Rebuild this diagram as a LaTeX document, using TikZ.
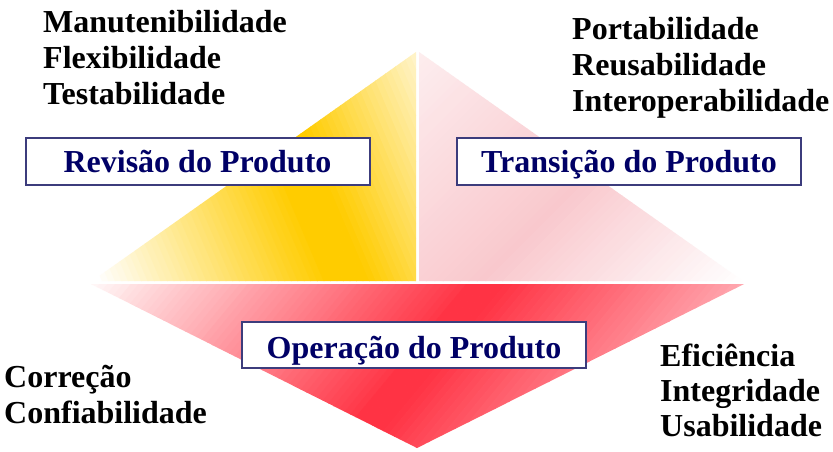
\documentclass[tikz,border=0pt]{standalone}
\usepackage{fontspec}
\setmainfont{Liberation Serif}
\usetikzlibrary{shadows}
\definecolor{gold}{HTML}{FFCC00}
\definecolor{goldlight}{HTML}{FFF6D6}
\definecolor{pinkpeak}{HTML}{F9C8CD}
\definecolor{pinktop}{HTML}{FDEEEF}
\definecolor{redpeak}{HTML}{FF3344}
\definecolor{redend}{HTML}{FFAAB2}
\definecolor{redstart}{HTML}{FFF6F6}
\definecolor{navy}{HTML}{000066}
\definecolor{boxline}{HTML}{3C3C7C}
\begin{document}
\begin{tikzpicture}[x=1pt,y=-1pt,
  lbl/.style={font=\fontsize{32}{36}\selectfont\bfseries, inner sep=0pt, anchor=base west},
  titlebox/.style={draw=boxline, line width=2pt, fill=white, minimum width=344pt,
    minimum height=47pt, inner sep=0pt, text=navy,
    font=\fontsize{32}{36}\selectfont\bfseries, text height=22pt, text depth=0pt,
    drop shadow={shadow xshift=1.2pt, shadow yshift=-1.2pt, fill=black!40, opacity=0.8}}]
\useasboundingbox (0,0) rectangle (833,451);
\fill[white] (0,0) rectangle (833,451);

% yellow triangle (Revisao)
\begin{scope}
  \clip (92,281) -- (416,52) -- (416,281) -- cycle;
  \begin{scope}[rotate=23]
    \foreach \p in {-40,-34,...,380} {
      \pgfmathsetmacro{\c}{\p+3}
      \pgfmathtruncatemacro{\ta}{min(100,max(0,(\c+20)/210*100))}
      \pgfmathtruncatemacro{\tb}{min(100,max(0,100-(\c-230)/140*100))}
      \pgfmathsetmacro{\q}{\p+6.6}
      \ifdim\c pt<210pt \colorlet{stc}{gold!\ta!white}\else\colorlet{stc}{gold!\tb!goldlight}\fi
      \fill[stc] (\p,-1500) rectangle (\q,1500);
    }
  \end{scope}
\end{scope}

% pink triangle (Transicao)
\begin{scope}
  \clip (419,52) -- (743,281) -- (419,281) -- cycle;
  \begin{scope}[rotate=-45]
    \foreach \p in {320,326,...,740} {
      \pgfmathsetmacro{\c}{\p+3}
      \pgfmathtruncatemacro{\ta}{min(100,max(0,(\c-330)/210*100))}
      \pgfmathtruncatemacro{\tb}{min(100,max(0,100-(\c-540)/184*100))}
      \pgfmathsetmacro{\q}{\p+6.6}
      \ifdim\c pt<540pt \colorlet{stc}{pinkpeak!\ta!pinktop}\else\colorlet{stc}{pinkpeak!\tb!white}\fi
      \fill[stc] (\p,-1500) rectangle (\q,1500);
    }
  \end{scope}
\end{scope}

% red triangle (Operacao)
\begin{scope}
  \clip (91,284) -- (744,284) -- (417,448) -- cycle;
  \begin{scope}[rotate=-39.7]
    \foreach \p in {240,246,...,770} {
      \pgfmathsetmacro{\c}{\p+3}
      \pgfmathtruncatemacro{\ta}{min(100,max(0,(\c-253)/290*100))}
      \pgfmathtruncatemacro{\tb}{min(100,max(0,100-(\c-570)/190*100))}
      \pgfmathsetmacro{\q}{\p+6.6}
      \ifdim\c pt<556pt \colorlet{stc}{redpeak!\ta!redstart}\else\colorlet{stc}{redpeak!\tb!redend}\fi
      \fill[stc] (\p,-1500) rectangle (\q,1500);
    }
  \end{scope}
\end{scope}

% title boxes
\node[titlebox] (rev) at (197.5,161.5) {Revisão do Produto};
\node[titlebox] (tra) at (629,161.5) {Transição do Produto};
\node[titlebox, minimum height=46pt, text height=26pt] (ope) at (414,345) {Operação do Produto};

% quality factors
\node[lbl] (m1) at (43,32) {Manutenibilidade};
\node[lbl] (m2) at (43,68) {Flexibilidade};
\node[lbl] (m3) at (43,104) {Testabilidade};
\node[lbl] (t1) at (572,39) {Portabilidade};
\node[lbl] (t2) at (572,75) {Reusabilidade};
\node[lbl] (t3) at (572,111) {Interoperabilidade};
\node[lbl] (c1) at (4,387) {Correção};
\node[lbl] (c2) at (4,423) {Confiabilidade};
\node[lbl] (e1) at (660,366) {Eficiência};
\node[lbl] (e2) at (660,401) {Integridade};
\node[lbl] (e3) at (660,436) {Usabilidade};
\end{tikzpicture}
\end{document}
